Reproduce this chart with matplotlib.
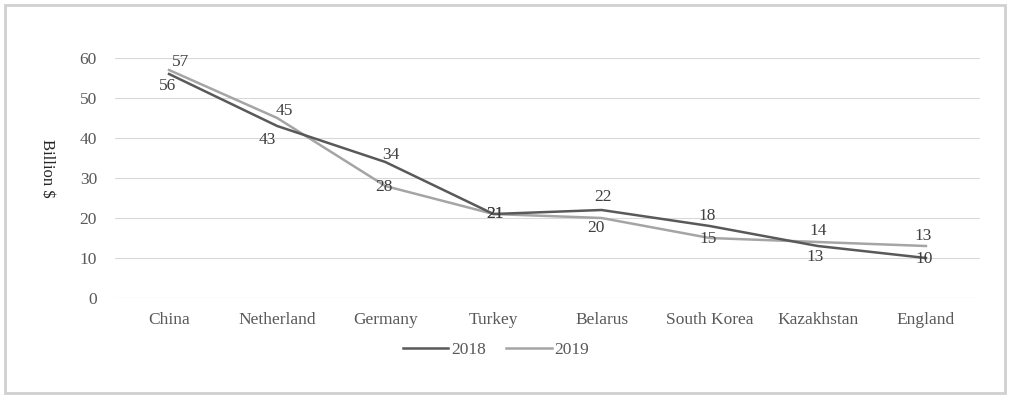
import matplotlib.pyplot as plt
from matplotlib.patches import Rectangle

countries = ["China", "Netherland", "Germany", "Turkey", "Belarus",
             "South Korea", "Kazakhstan", "England"]
exports_2018 = [56, 43, 34, 21, 22, 18, 13, 10]
exports_2019 = [57, 45, 28, 21, 20, 15, 14, 13]
y_ticks = [0, 10, 20, 30, 40, 50, 60]

# label offsets (points) for each data label
offsets_2018 = [(-1, -9), (-7, -10), (4, 5), (1, 0), (1, 9), (-2, 7), (-2, -8), (-1, -1)]
offsets_2019 = [(8, 6), (5, 5), (-1, -1), (1, 0), (-4, -7), (-1, -1), (0, 8), (-2, 7)]

plt.rcParams["font.family"] = ["Liberation Serif", "DejaVu Serif"]
FS = 12.5

fig = plt.figure(figsize=(10.1, 3.97), dpi=100)
ax = fig.add_axes([115 / 1010, 1 - 298 / 397, (980 - 115) / 1010, 240 / 397])

x = list(range(len(countries)))
ax.plot(x, exports_2018, color="#595959", linewidth=1.8, label="2018", zorder=3)
ax.plot(x, exports_2019, color="#A5A5A5", linewidth=1.8, label="2019", zorder=2)

for i in x:
    ax.annotate(str(exports_2018[i]), (i, exports_2018[i]), xytext=offsets_2018[i],
                textcoords="offset points", ha="center", va="center",
                fontsize=FS, color="#404040", zorder=4)
    ax.annotate(str(exports_2019[i]), (i, exports_2019[i]), xytext=offsets_2019[i],
                textcoords="offset points", ha="center", va="center",
                fontsize=FS, color="#404040", zorder=4)

ax.set_xlim(-0.5, len(countries) - 0.5)
ax.set_ylim(0, 60)
ax.set_yticks(y_ticks)
ax.set_xticks(x)
ax.set_xticklabels(countries)
ax.tick_params(length=0, labelsize=FS, colors="#595959", pad=10)
ax.tick_params(axis="y", pad=13)
ax.grid(axis="y", color="#D9D9D9", linewidth=0.8)
for s in ax.spines.values():
    s.set_visible(False)
ax.set_axisbelow(True)

fig.text(47 / 1010, 1 - 168 / 397, "Billion $", rotation=270, ha="center", va="center",
         fontsize=FS - 0.5, color="#262626")

fig.legend(loc="center", bbox_to_anchor=(496 / 1010, 1 - 350 / 397), ncol=2, frameon=False,
           fontsize=FS, handlelength=2.6, handletextpad=0.15, columnspacing=1.2,
           labelcolor="#595959")

fig.patches.append(Rectangle((5 / 1010, 4 / 397), 1000 / 1010, 388 / 397,
                             transform=fig.transFigure, fill=False,
                             edgecolor="#D0D0D0", linewidth=2))

fig.savefig("out.png", dpi=100)
